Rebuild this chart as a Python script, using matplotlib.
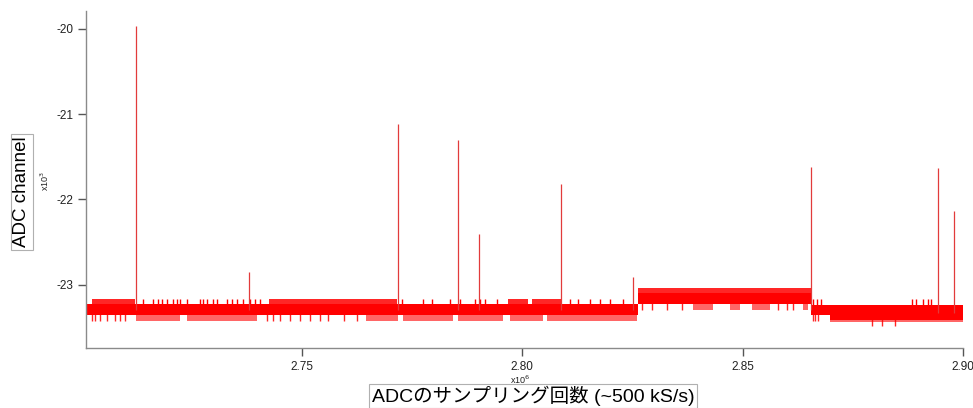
import numpy as np
import matplotlib
matplotlib.use("Agg")
import matplotlib.pyplot as plt

plt.rcParams['font.family'] = ['Liberation Sans', 'Noto Sans CJK JP', 'DejaVu Sans']

# ---------------- data (x in 10^6 samples, y in 10^3 ADC channels) ----------------
# dense core of the noise band (step segments)
core_x = [2.7012, 2.8262, 2.8655, 2.8698, 2.9000]
core_hi = [-23.226, -23.097, -23.234, -23.234, -23.234]
core_lo = [-23.359, -23.226, -23.359, -23.418, -23.418]

# dense clusters of upward noise excursions
upper_dense_start = [2.7024, 2.7425, 2.7968, 2.8022, 2.8262]
upper_dense_end = [2.7121, 2.7716, 2.8013, 2.8090, 2.8655]
upper_dense_top = [-23.164, -23.164, -23.164, -23.164, -23.039]

# dense clusters of downward noise excursions
lower_dense_start = [2.7124, 2.7239, 2.7645, 2.7729, 2.7854, 2.7972, 2.8056,
                     2.8387, 2.8471, 2.8521, 2.8637, 2.8698]
lower_dense_end = [2.7223, 2.7398, 2.7718, 2.7843, 2.7956, 2.8047, 2.8260,
                   2.8433, 2.8494, 2.8562, 2.8648, 2.9000]
lower_dense_bottom = [-23.430, -23.430, -23.430, -23.430, -23.430, -23.430, -23.430,
                      -23.293, -23.293, -23.293, -23.293, -23.432]

# isolated upward excursions
upper_tick_x = [2.7139, 2.7162, 2.7173, 2.7182, 2.7194, 2.7207, 2.7217, 2.7223,
                2.7239, 2.7269, 2.7276, 2.7285, 2.7298, 2.7307, 2.7330, 2.7341,
                2.7353, 2.7366, 2.7382, 2.7394, 2.7405, 2.7727, 2.7775, 2.7795,
                2.7836, 2.7859, 2.7893, 2.7904, 2.7915, 2.7943, 2.8108, 2.8126,
                2.8154, 2.8176, 2.8199, 2.8229,
                2.8660, 2.8669, 2.8678, 2.8884, 2.8893, 2.8909, 2.8921, 2.8927]
upper_tick_top = [-23.164] * 36 + [-23.164] * 8

# isolated downward excursions
lower_tick_x = [2.7024, 2.7030, 2.7042, 2.7058, 2.7076, 2.7087, 2.7099,
                2.7421, 2.7434, 2.7450, 2.7473, 2.7496, 2.7518, 2.7541, 2.7559,
                2.7595, 2.7625,
                2.8272, 2.8294, 2.8328, 2.8362, 2.8580, 2.8601, 2.8614,
                2.8660, 2.8664, 2.8671, 2.8793, 2.8816, 2.8846]
lower_tick_bottom = [-23.430] * 17 + [-23.293] * 7 + [-23.425] * 3 + [-23.488] * 3

# isolated spikes
spike_x = [2.7123, 2.7380, 2.7718, 2.7853, 2.7902, 2.8088, 2.8251, 2.8655, 2.8943, 2.8979]
spike_top = [-19.97, -22.85, -21.115, -21.30, -22.40, -21.82, -22.91, -21.62, -21.63, -22.14]

x_ticks = [2.75, 2.80, 2.85, 2.90]
x_tick_labels = ["2.75", "2.80", "2.85", "2.90"]
y_ticks = [-23, -22, -21, -20]
y_tick_labels = ["-23", "-22", "-21", "-20"]

x_label = "ADCのサンプリング回数 (~500 kS/s)"
y_label = "ADC channel"

# ---------------- drawing ----------------
W, H = 973, 408
fig = plt.figure(figsize=(W / 100, H / 100), dpi=100)
ax = fig.add_axes([86 / W, 1 - 348 / H, (963 - 86) / W, (348 - 11) / H])

RED = '#ff0000'


def core_mid(x):
    i = np.clip(np.searchsorted(core_x, x, side='right') - 1, 0, len(core_hi) - 1)
    return (np.asarray(core_hi)[i] + np.asarray(core_lo)[i]) / 2


# dense excursion clusters
for s, e, t in zip(upper_dense_start, upper_dense_end, upper_dense_top):
    m = core_mid((s + e) / 2)
    ax.fill_between([s, e], [t, t], [m, m], color=RED, alpha=0.85, lw=0)
for s, e, b in zip(lower_dense_start, lower_dense_end, lower_dense_bottom):
    m = core_mid((s + e) / 2)
    ax.fill_between([s, e], [b, b], [m, m], color=RED, alpha=0.6, lw=0)

# isolated excursions
ax.vlines(upper_tick_x, upper_tick_top, core_mid(np.array(upper_tick_x)), color=RED, lw=1.0)
ax.vlines(lower_tick_x, core_mid(np.array(lower_tick_x)), lower_tick_bottom, color=RED, lw=1.0,
          alpha=0.85)

# core band
cx = np.array(core_x)
ch = np.array(core_hi)
cl = np.array(core_lo)
ax.fill_between(cx, np.append(ch[:-1], ch[-2]), np.append(cl[:-1], cl[-2]), step='post',
                color=RED, lw=0)

# spikes
ax.vlines(spike_x, core_mid(np.array(spike_x)), spike_top, color='#e23b3b', lw=0.9)

# axes styling
ax.set_xlim(2.70099, 2.9000)
ax.set_ylim(-23.741, -19.793)
for sp in ['top', 'right']:
    ax.spines[sp].set_visible(False)
for sp in ['left', 'bottom']:
    ax.spines[sp].set_color('#8a8a8a')
    ax.spines[sp].set_linewidth(1.0)
ax.set_xticks(x_ticks)
ax.set_xticklabels(x_tick_labels)
ax.set_yticks(y_ticks)
ax.set_yticklabels(y_tick_labels)
ax.tick_params(axis='both', direction='out', length=6, width=1.0, color='#555555',
               labelsize=8.5, labelcolor='#222222')
ax.tick_params(axis='x', pad=3)
ax.tick_params(axis='y', pad=3)

# axis labels (boxed) and multipliers
box = dict(boxstyle='square,pad=0.12', fc='white', ec='#b0b0b0', lw=0.8)
fig.text(22 / W, 1 - 192 / H, y_label, rotation=90, ha='center', va='center',
         fontsize=13.5, bbox=box)
fig.text(45 / W, 1 - 181 / H, "x10$^3$", rotation=90, ha='center', va='center',
         fontsize=6.5, color='#222222')
fig.text(533 / W, 1 - 396 / H, x_label, ha='center', va='center', fontsize=14, bbox=box)
fig.text(520 / W, 1 - 380 / H, "x10$^6$", ha='center', va='center', fontsize=6.5, color='#222222')

fig.savefig("out.png", dpi=100)
